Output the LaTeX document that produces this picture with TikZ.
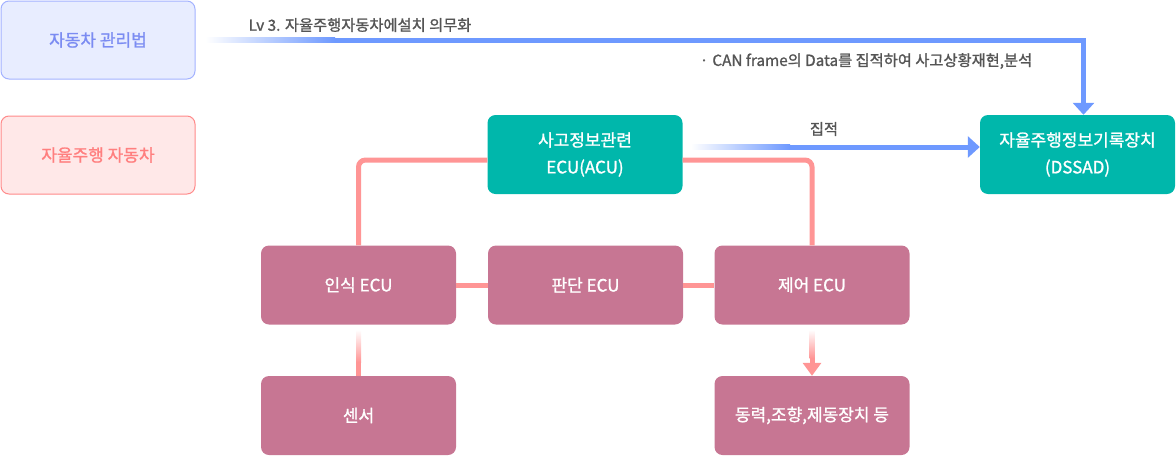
\documentclass[tikz,border=0pt]{standalone}
\usepackage{fontspec}
\setmainfont{Noto Sans CJK KR}
\newfontfamily\medfont{Noto Sans CJK KR}[FakeBold=1.2]
\usetikzlibrary{arrows.meta,calc}
\definecolor{lawblue}{HTML}{7B8CF2}
\definecolor{lawfill}{HTML}{E8EDFF}
\definecolor{lawline}{HTML}{A3B2FF}
\definecolor{carred}{HTML}{FF7F7F}
\definecolor{carfill}{HTML}{FFE8E8}
\definecolor{carline}{HTML}{FF8A8A}
\definecolor{acuteal}{HTML}{00B7AB}
\definecolor{ecumauve}{HTML}{C77693}
\definecolor{linkpink}{HTML}{FF9595}
\definecolor{flowblue}{HTML}{6E99FF}
\definecolor{labelgray}{HTML}{555555}
\tikzset{
  box/.style={rounded corners=8pt, minimum width=195pt, minimum height=79pt,
    inner sep=0pt, align=center, font=\medfont\fontsize{17}{27}\selectfont},
  lawbox/.style={box, draw=lawline, fill=lawfill, text=lawblue, line width=1pt,
    minimum width=194pt, minimum height=78pt},
  carbox/.style={box, draw=carline, fill=carfill, text=carred, line width=1pt,
    minimum width=194pt, minimum height=78pt},
  acubox/.style={box, fill=acuteal, text=white},
  ecubox/.style={box, fill=ecumauve, text=white},
  link/.style={draw=linkpink, line width=5pt, rounded corners=7pt},
  flow/.style={draw=flowblue, line width=5pt, line join=miter,
    -{Triangle[width=21pt,length=12pt]}},
  pinkflow/.style={draw=linkpink, line width=5pt,
    -{Triangle[width=18pt,length=13pt]}},
  note/.style={text=labelgray, font=\medfont\fontsize{15.3}{18}\selectfont, inner sep=0pt}
}
\begin{document}
\begin{tikzpicture}[x=1pt,y=-1pt]
\useasboundingbox (0,0) rectangle (1176,456);
% left legend boxes
\node[lawbox] (law) at (98,40) {자동차 관리법};
\node[carbox] (car) at (98,155) {자율주행 자동차};
% recorder boxes
\node[acubox] (acu) at (585,154.5) {사고정보관련\\ECU(ACU)};
\node[acubox] (dssad) at (1077.5,154.5) {자율주행정보기록장치\\(DSSAD)};
% ecu row
\node[ecubox] (recog) at (358.5,285) {인식 ECU};
\node[ecubox] (judge) at (585.5,285) {판단 ECU};
\node[ecubox] (ctrl) at (812,285) {제어 ECU};
\node[ecubox] (sensor) at (358.5,415.5) {센서};
\node[ecubox] (drive) at (812,415.5) {동력,조향,제동장치 등};
% law arrow
\coordinate (lawfade) at (335,40);
\shade[left color=white, right color=flowblue]
  ([xshift=10pt,yshift=2.5pt]law.east) rectangle ([yshift=-2.5pt]lawfade);
\draw[flow] (lawfade) -| ([xshift=6pt]dssad.north);
\node[note] (lvnote) at (360,25) {Lv 3. 자율주행자동차에설치 의무화};
\node[note] (cannote) at (866,61) {·\hspace{4pt}CAN frame의 Data를 집적하여 사고상황재현,분석};
% collect arrow
\coordinate (acufade) at (790,147);
\shade[left color=white, right color=flowblue]
  ([xshift=8pt,yshift=10pt]acu.east) rectangle ([yshift=-2.5pt]acufade);
\draw[flow] (acufade) -- ([yshift=7.5pt]dssad.west);
\node[note] (collect) at (824,129) {집적};
% ecu links
\draw[link] ([yshift=-5.5pt]acu.west) -| (recog.north);
\draw[link] ([yshift=-5.5pt]acu.east) -| (ctrl.north);
\draw[link] (recog.east) -- (judge.west);
\draw[link] (judge.east) -- (ctrl.west);
% lower links
\coordinate (sensorfade) at (358.5,362);
\shade[top color=white, bottom color=linkpink]
  ([xshift=-2.5pt,yshift=-5pt]recog.south) rectangle ([xshift=2.5pt]sensorfade);
\draw[link] (sensorfade) -- (sensor.north);
\coordinate (drivefade) at (812,358);
\shade[top color=white, bottom color=linkpink]
  ([xshift=-2.5pt,yshift=-5pt]ctrl.south) rectangle ([xshift=2.5pt]drivefade);
\draw[pinkflow] (drivefade) -- (drive.north);
\end{tikzpicture}
\end{document}
